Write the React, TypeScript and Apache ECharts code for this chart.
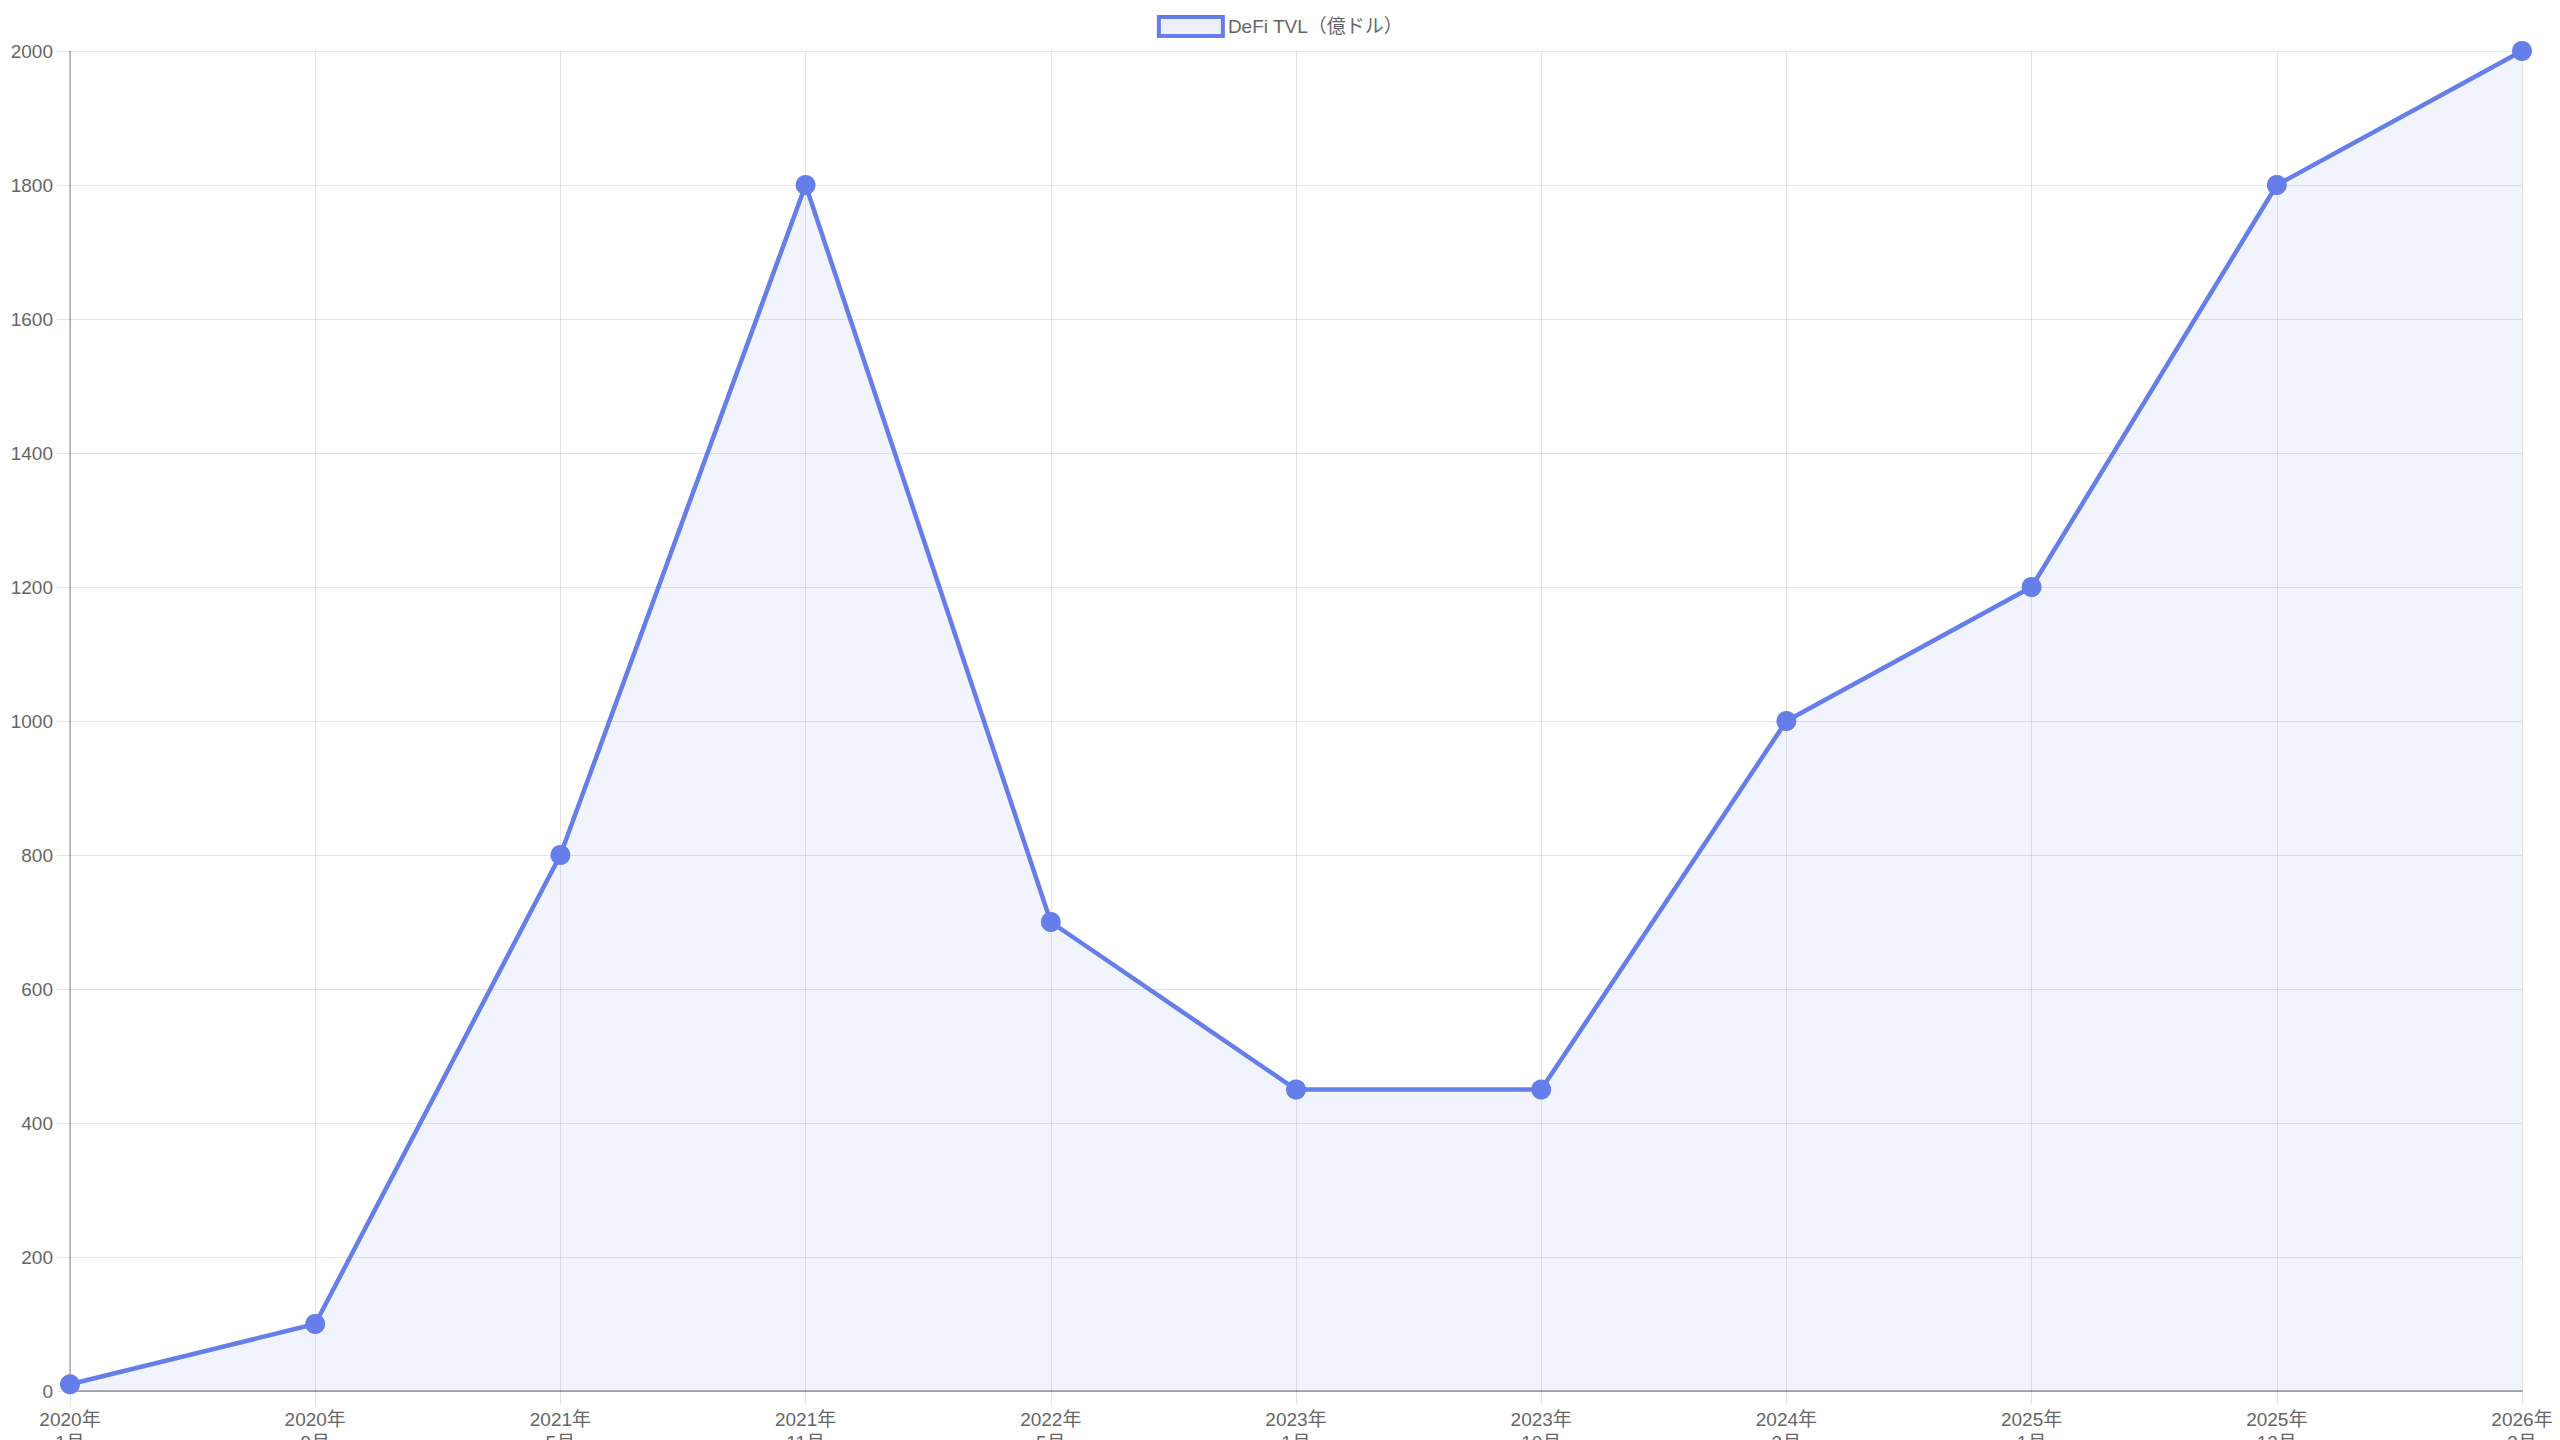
import React, { useEffect, useRef } from "react";
import * as echarts from "echarts";

const categories = [
  "2020年\n1月",
  "2020年\n9月",
  "2021年\n5月",
  "2021年\n11月",
  "2022年\n5月",
  "2023年\n1月",
  "2023年\n10月",
  "2024年\n3月",
  "2025年\n1月",
  "2025年\n12月",
  "2026年\n3月",
];
const tvlValues = [10, 100, 800, 1800, 700, 450, 450, 1000, 1200, 1800, 2000];
const seriesName = "DeFi TVL（億ドル）";
const yMin = 0;
const yMax = 2000;
const yInterval = 200;

const FONT = "'Liberation Sans', Arial, 'Noto Sans CJK JP', sans-serif";
const LINE = "#667eea";
const FILL = "rgba(102,126,234,0.12)";
const GRID = "rgba(0,0,0,0.1)";
const AXIS = "rgba(0,0,0,0.3)";

export default function App() {
  const ref = useRef<HTMLDivElement>(null);
  useEffect(() => {
    if (!ref.current) return;
    const chart = echarts.init(ref.current, undefined, { renderer: "svg" });
    chart.setOption({
      animation: false,
      backgroundColor: "#ffffff",
      textStyle: { fontFamily: FONT },
      legend: {
        top: 10,
        left: "center",
        icon: "rect",
        itemWidth: 64,
        itemHeight: 19,
        itemGap: 10,
        itemStyle: { color: FILL, borderColor: LINE, borderWidth: 4 },
        textStyle: { color: "#666", fontSize: 19, fontFamily: FONT },
        data: [seriesName],
      },
      grid: {
        left: 70,
        right: 38,
        top: 51,
        bottom: 49,
        containLabel: false,
        outerBoundsMode: "none",
      },
      xAxis: {
        type: "category",
        data: categories,
        boundaryGap: false,
        axisLine: { show: true, lineStyle: { color: AXIS, width: 2 } },
        axisTick: { show: true, length: 14, alignWithLabel: true, lineStyle: { color: GRID } },
        splitLine: { show: true, lineStyle: { color: GRID, width: 1 } },
        axisLabel: {
          interval: 0,
          color: "#666",
          fontSize: 19,
          lineHeight: 23,
          margin: 17,
          fontFamily: FONT,
        },
      },
      yAxis: {
        type: "value",
        min: yMin,
        max: yMax,
        interval: yInterval,
        axisLine: { show: true, lineStyle: { color: AXIS, width: 1.5 } },
        axisTick: { show: true, length: 13, lineStyle: { color: GRID } },
        splitLine: { show: true, lineStyle: { color: GRID, width: 1 } },
        axisLabel: {
          color: "#666",
          fontSize: 19,
          margin: 17,
          fontFamily: FONT,
          formatter: (v: number) => String(v),
        },
      },
      series: [
        {
          name: seriesName,
          type: "line",
          data: tvlValues,
          symbol: "circle",
          symbolSize: 20,
          lineStyle: { color: LINE, width: 4.5 },
          itemStyle: { color: LINE, borderColor: LINE, borderWidth: 0 },
          areaStyle: { color: FILL },
          emphasis: { disabled: true },
        },
      ],
    });
    return () => chart.dispose();
  }, []);
  return (
    <div
      ref={ref}
      style={{ position: "fixed", left: 0, top: 0, width: 2560, height: 1440 }}
    />
  );
}
